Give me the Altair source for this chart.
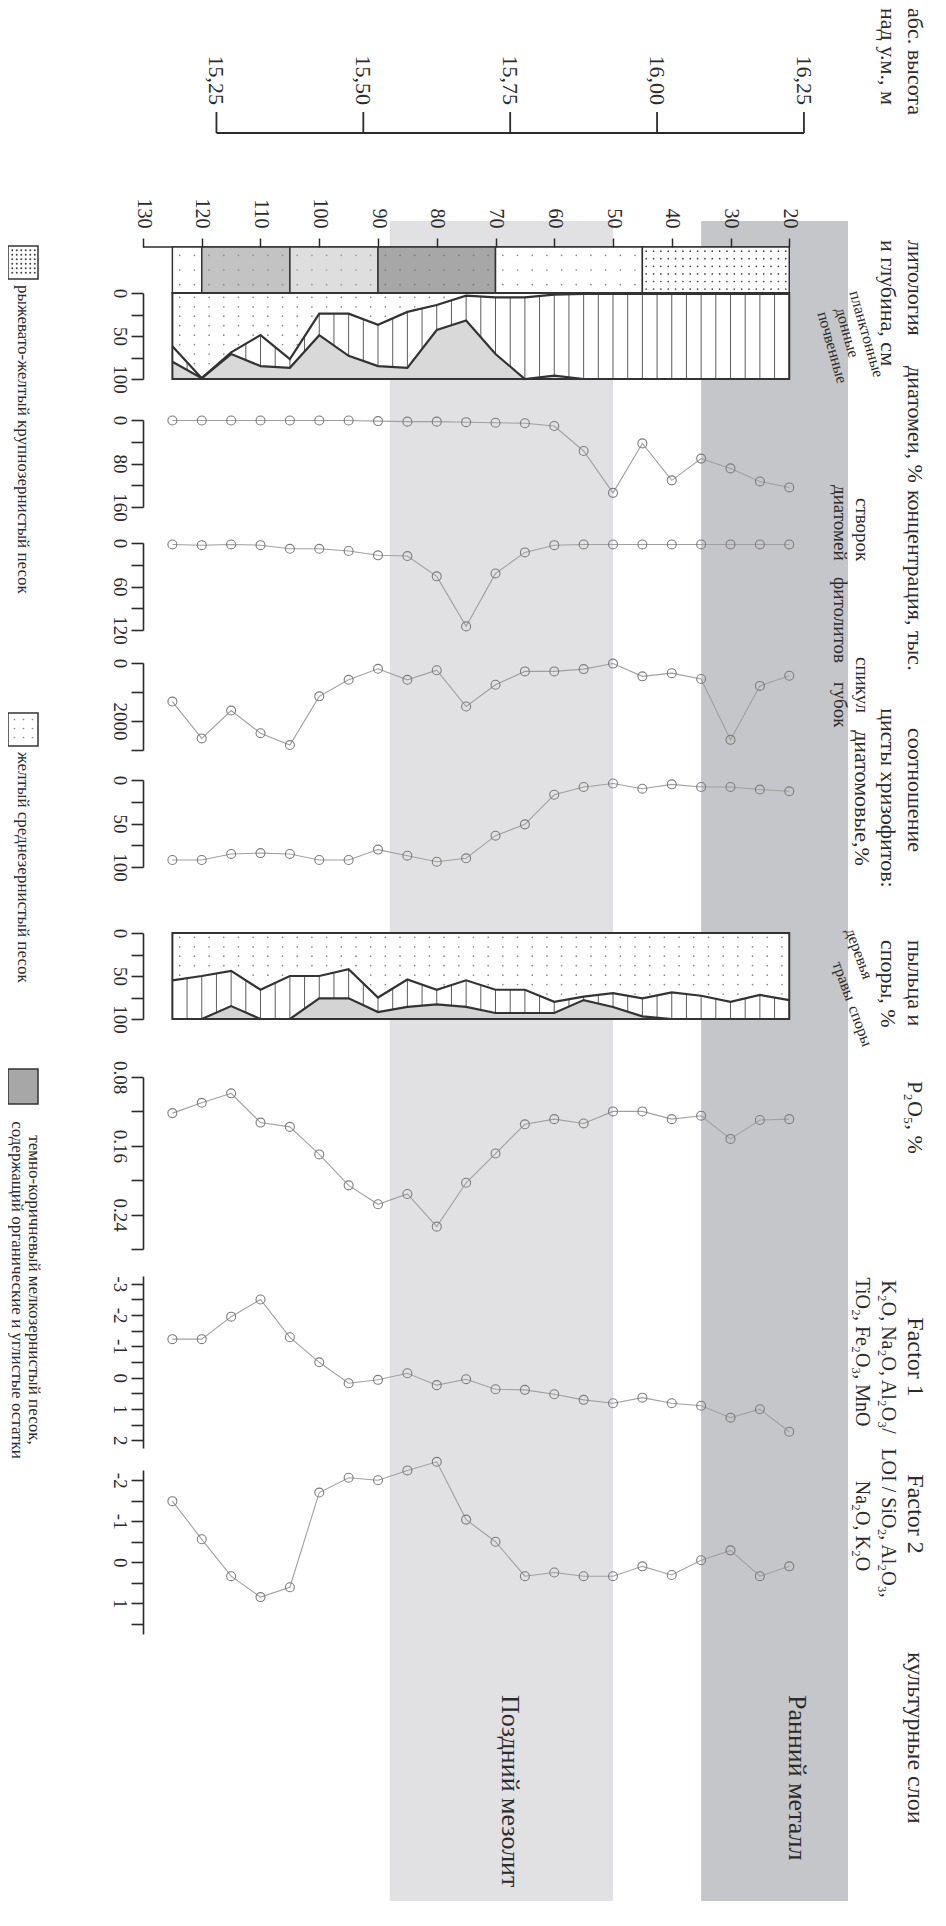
import altair as alt
import pandas as pd

FONT = "Liberation Serif"
INK = "#2b2b2b"

# ---------------- values ----------------
depth = [125, 120, 115, 110, 105, 100, 95, 90, 85, 80, 75, 70, 65, 60, 55, 50, 45, 40, 35, 30, 25, 20]

# diatoms, % (cumulative boundaries: planktonic | benthic | soil)
diatom_planktonic = [62, 99, 69, 49, 77, 24, 24, 37, 22, 14, 3, 5, 5, 2, 1, 1, 1, 1, 1, 1, 1, 1]
diatom_plankt_benthic = [80, 99, 71, 85, 87, 49, 73, 85, 87, 43, 32, 71, 100, 96, 100, 100, 100, 100, 100, 100, 100, 100]

diatom_conc = [1, 1, 1, 1, 1, 1, 1, 2, 3, 3, 4, 5, 6, 11, 57, 134, 43, 111, 71, 89, 113, 124]
phytolith_conc = [2, 3, 2, 3, 8, 8, 11, 17, 18, 46, 115, 42, 13, 3, 2, 2, 2, 2, 2, 2, 2, 2]
spicule_conc = [1330, 2600, 1640, 2420, 2830, 1150, 580, 200, 580, 250, 1500, 750, 290, 290, 210, 20, 460, 350, 550, 2650, 790, 440]
cyst_ratio = [92, 92, 85, 84, 85, 92, 92, 80, 87, 94, 90, 64, 51, 17, 8, 4, 10, 5, 8, 8, 11, 13]

# pollen and spores, % (cumulative boundaries: trees | herbs | spores)
pollen_trees = [55, 50, 44, 66, 50, 50, 42, 75, 54, 66, 55, 66, 66, 80, 74, 70, 76, 69, 73, 80, 72, 78]
pollen_trees_herbs = [100, 100, 85, 100, 100, 76, 76, 92, 86, 83, 86, 93, 93, 93, 78, 86, 97, 100, 100, 100, 100, 100]

p2o5 = [0.122, 0.110, 0.099, 0.133, 0.138, 0.170, 0.206, 0.228, 0.216, 0.254, 0.203, 0.169, 0.135, 0.129,
        0.134, 0.120, 0.120, 0.129, 0.125, 0.152, 0.130, 0.129]
factor1 = [-1.23, -1.23, -1.95, -2.50, -1.29, -0.49, 0.18, 0.07, -0.14, 0.24, 0.05, 0.37, 0.39, 0.53,
           0.71, 0.82, 0.64, 0.82, 0.90, 1.28, 1.01, 1.73]
factor2 = [-1.49, -0.56, 0.34, 0.85, 0.61, -1.70, -2.06, -2.00, -2.24, -2.45, -1.04, -0.50, 0.34, 0.25,
           0.34, 0.34, 0.10, 0.31, -0.05, -0.29, 0.34, 0.10]

litho_top = [125, 120, 105, 90, 70, 45]
litho_bottom = [120, 105, 90, 70, 45, 20]
litho_class = ["sparse", "gray", "light", "dark", "sparse", "dense"]

culture_start = [88, 35]
culture_end = [50, 10]
culture_name = ["Поздний мезолит", "Ранний металл"]
culture_tone = ["light", "dark"]

depth_ticks = [130, 120, 110, 100, 90, 80, 70, 60, 50, 40, 30, 20]
altitude_ticks = [15.25, 15.50, 15.75, 16.00, 16.25]
surface_altitude = 16.425  # m a.s.l. at depth 0

legend_text = ["рыжевато-желтый крупнозернистый песок",
               "желтый среднезернистый песок",
               "темно-коричневый мелкозернистый песок,",
               "содержащий органические и углистые остатки"]

# ---------------- layout ----------------
W, H = 705, 1654
OX, OY = 143, 247          # page position of plot origin
K = W / 120.0
HEAD = 22                  # header font size
FORM = 20                  # chemical formula lines


def px(x):
    return x - OX


def py(y):
    return y - OY


PANEL = dict(litho=(0, 46), diat=(46, 132), conc=(173, 260), phyt=(296, 383), spic=(416, 503),
             cyst=(533, 620), poll=(686, 772), p2o5=(830, 1002), f1=(1029, 1201), f2=(1223, 1387))

xscale = alt.Scale(domain=[130, 10], nice=False, zero=False)
xaxis = alt.Axis(orient="top", values=depth_ticks, tickSize=9, tickColor=INK, tickWidth=1.5, domain=False,
                 labelAngle=90, labelAlign="right", labelBaseline="middle", labelPadding=10,
                 labelFont=FONT, labelFontSize=20, labelColor=INK, labelFlush=False, labelOverlap=False,
                 grid=False, title=None, zindex=2)


def X(field):
    return alt.X(f"{field}:Q", scale=xscale, axis=xaxis)


def yaxis(values, expr):
    return alt.Axis(orient="left", values=values, labelExpr=expr, tickSize=12, tickWidth=1.6, tickColor=INK,
                    domainColor=INK, domainWidth=1.6, labelAngle=90, labelAlign="center", labelBaseline="top",
                    labelPadding=3, labelFont=FONT, labelFontSize=19, labelColor=INK, labelOverlap=False,
                    labelFlush=False, grid=False, title=None, zindex=2)


ident_y = alt.Scale(domain=[0, H], range=[0, H], nice=False, zero=False)


def note(text, x, y, size=HEAD, angle=90, align="left"):
    return alt.Chart(pd.DataFrame({"t": [text]})).mark_text(
        angle=angle, align=align, baseline="middle", font=FONT, fontSize=size, color=INK
    ).encode(x=alt.value(x), y=alt.value(y), text="t:N")


def dot_grid(x0, x1, y0, y1, sx, sy, size, color):
    nx = int((x1 - x0) // sx)
    ny = int((y1 - y0) // sy)
    return alt.Chart(alt.sequence(0, nx * ny, as_="i")).transform_calculate(
        gx=f"{x0} + {sx}/2 + ({sx}) * (datum.i % {nx})",
        gy=f"{y0} + {sy}/2 + ({sy}) * floor(datum.i / {nx})",
    ).transform_calculate(d=f"130 - datum.gx / {K}").mark_point(
        filled=True, size=size, color=color, opacity=1
    ).encode(x=X("d"), y=alt.Y("gy:Q", scale=ident_y, axis=None))


layers = []

# ---- cultural layer bands ----
culture = pd.DataFrame({"start": culture_start, "end": culture_end, "name": culture_name, "tone": culture_tone})
layers.append(alt.Chart(culture).mark_rect().encode(
    x=X("start"), x2="end", y=alt.value(py(221)), y2=alt.value(H),
    color=alt.Color("tone:N", scale=alt.Scale(domain=["light", "dark"], range=["#e1e1e3", "#c5c6c9"]), legend=None)))

# ---- altitude axis (m a.s.l.) ----
AY = py(133)
alt_df = pd.DataFrame({"a": altitude_ticks})
alt_base = alt.Chart(alt_df).transform_calculate(d=f"({surface_altitude} - datum.a) * 100")
layers.append(alt_base.mark_rule(color=INK, strokeWidth=1.8).encode(
    x=X("d"), y=alt.value(AY - 21), y2=alt.value(AY)))
layers.append(alt_base.transform_aggregate(d0="max(d)", d1="min(d)").mark_rule(color=INK, strokeWidth=1.8).encode(
    x=X("d0"), x2="d1", y=alt.value(AY)))
layers.append(alt_base.transform_calculate(lab="replace(format(datum.a, '.2f'), '.', ',')").mark_text(
    angle=90, align="right", baseline="middle", font=FONT, fontSize=22, color=INK).encode(
    x=X("d"), y=alt.value(AY - 28), text="lab:N"))

# ---- depth axis line ----
dt = pd.DataFrame({"d": depth_ticks})
layers.append(alt.Chart(dt).transform_aggregate(d0="max(d)", d1="min(d)").mark_rule(
    color=INK, strokeWidth=1.6).encode(x=X("d0"), x2="d1", y=alt.value(0)))

# ---- lithology ----
litho = pd.DataFrame({"top": litho_top, "bot": litho_bottom, "cls": litho_class})
LY = PANEL["litho"]
layers.append(alt.Chart(litho).mark_rect(stroke="#333333", strokeWidth=1.5).encode(
    x=X("top"), x2="bot", y=alt.value(LY[0]), y2=alt.value(LY[1]),
    color=alt.Color("cls:N", scale=alt.Scale(domain=["sparse", "gray", "light", "dark", "dense"],
                                             range=["#ffffff", "#c3c3c3", "#dedede", "#a7a7a7", "#ffffff"]),
                    legend=None)))
layers.append(alt.Chart(litho).transform_calculate(
    xs="datum.cls == 'dense' ? sequence(datum.bot + 0.6, datum.top, 1.25) : sequence(datum.bot + 1.25, datum.top, 2.5)",
    ys="datum.cls == 'dense' ? sequence(0.09, 0.99, 0.165) : sequence(0.18, 0.99, 0.32)",
).transform_flatten(["xs"]).transform_flatten(["ys"]).mark_point(filled=True, opacity=1).encode(
    x=X("xs"), y=alt.Y("ys:Q", scale=alt.Scale(domain=[0, 1], range=list(LY), nice=False, zero=False), axis=None),
    size=alt.Size("cls:N", scale=alt.Scale(domain=["sparse", "gray", "light", "dark", "dense"],
                                           range=[3, 3, 3, 3, 5]), legend=None),
    color=alt.Color("cls:N", scale=alt.Scale(domain=["sparse", "gray", "light", "dark", "dense"],
                                             range=["#8a8a8a", "#8a8a8a", "#9a9a9a", "#777777", "#444444"]),
                    legend=None)))


# ---- stacked percentage panels (diatoms, pollen) ----
def stacked(up, lo, rng, soil_color):
    df = pd.DataFrame({"depth": depth, "up": up, "lo": lo})
    ys = alt.Scale(domain=[0, 100], range=list(rng), nice=False, zero=False)
    base = alt.Chart(df)
    out = []
    out.append(base.transform_aggregate(d0="max(depth)", d1="min(depth)").mark_rect(color="white").encode(
        x=X("d0"), x2="d1", y=alt.value(rng[0]), y2=alt.value(rng[1])))
    out.append(base.transform_calculate(full="100").mark_area(color=soil_color, opacity=1).encode(
        x=X("depth"), y=alt.Y("lo:Q", scale=ys, axis=None), y2="full:Q"))
    win = base.transform_window(nu="lead(up)", nl="lead(lo)",
                                sort=[alt.SortField("depth", order="descending")])
    out.append(win.transform_calculate(offs="[0, 2.5]").transform_flatten(["offs"]).transform_filter(
        "datum.nu != null || datum.offs == 0").transform_calculate(
        hx="datum.depth - datum.offs",
        hu="datum.up + ((datum.nu == null ? datum.up : datum.nu) - datum.up) * datum.offs / 5",
        hl="datum.lo + ((datum.nl == null ? datum.lo : datum.nl) - datum.lo) * datum.offs / 5",
    ).mark_rule(color="#4a4a4a", strokeWidth=0.9).encode(
        x=X("hx"), y=alt.Y("hu:Q", scale=ys, axis=None), y2="hl:Q"))
    out.append(win.transform_calculate(offs="[1.25, 3.75]", pct="sequence(5, 100, 11)").transform_flatten(
        ["offs"]).transform_flatten(["pct"]).transform_calculate(
        hx="datum.depth - datum.offs",
        hu="datum.up + ((datum.nu == null ? datum.up : datum.nu) - datum.up) * datum.offs / 5",
    ).transform_filter("datum.nu != null && datum.pct < datum.hu - 3").mark_point(
        filled=True, size=3, color="#8c8c8c", opacity=1).encode(
        x=X("hx"), y=alt.Y("pct:Q", scale=ys, axis=None)))
    out.append(base.mark_line(color="#333333", strokeWidth=2.2).encode(
        x=X("depth"), y=alt.Y("up:Q", scale=ys,
                              axis=yaxis([0, 25, 50, 75, 100], "datum.value % 50 == 0 ? datum.label : ''"))))
    out.append(base.mark_line(color="#333333", strokeWidth=2.2).encode(
        x=X("depth"), y=alt.Y("lo:Q", scale=ys, axis=None)))
    out.append(base.transform_aggregate(d0="max(depth)", d1="min(depth)").mark_rect(
        fillOpacity=0, stroke="#333333", strokeWidth=2).encode(
        x=X("d0"), x2="d1", y=alt.value(rng[0]), y2=alt.value(rng[1])))
    return out


layers += stacked(diatom_planktonic, diatom_plankt_benthic, PANEL["diat"], "#d9d9d9")
layers += stacked(pollen_trees, pollen_trees_herbs, PANEL["poll"], "#d4d4d4")


# ---- line + circle profiles ----
def profile(values, rng, domain, ticks, expr):
    df = pd.DataFrame({"depth": depth, "v": values})
    ys = alt.Scale(domain=domain, range=list(rng), nice=False, zero=False)
    base = alt.Chart(df)
    return [
        base.mark_line(color="#a0a0a0", strokeWidth=1.1).encode(
            x=X("depth"), y=alt.Y("v:Q", scale=ys, axis=yaxis(ticks, expr))),
        base.mark_point(shape="circle", filled=False, size=80, color="#7c7c7c", strokeWidth=1.1, opacity=1).encode(
            x=X("depth"), y=alt.Y("v:Q", scale=ys, axis=None)),
    ]


layers += profile(diatom_conc, PANEL["conc"], [0, 160], [0, 40, 80, 120, 160],
                  "datum.value % 80 == 0 ? '' + datum.value : ''")
layers += profile(phytolith_conc, PANEL["phyt"], [0, 120], [0, 30, 60, 90, 120],
                  "datum.value % 60 == 0 ? '' + datum.value : ''")
layers += profile(spicule_conc, PANEL["spic"], [0, 3000], [0, 1000, 2000, 3000],
                  "(datum.value == 0 || datum.value == 2000) ? '' + datum.value : ''")
layers += profile(cyst_ratio, PANEL["cyst"], [0, 100], [0, 25, 50, 75, 100],
                  "datum.value % 50 == 0 ? '' + datum.value : ''")
layers += profile(p2o5, PANEL["p2o5"], [0.08, 0.28], [0.08, 0.12, 0.16, 0.20, 0.24, 0.28],
                  "indexof(['0.08', '0.16', '0.24'], format(datum.value, '.2f')) >= 0 ? format(datum.value, '.2f') : ''")
layers += profile(factor1, PANEL["f1"], [-3.25, 2.25], [-3, -2.5, -2, -1.5, -1, -0.5, 0, 0.5, 1, 1.5, 2],
                  "datum.value % 1 == 0 ? '' + datum.value : ''")
layers += profile(factor2, PANEL["f2"], [-2.25, 1.75], [-2, -1.5, -1, -0.5, 0, 0.5, 1, 1.5],
                  "datum.value % 1 == 0 ? '' + datum.value : ''")

# ---- headers (rotated) ----
CA, CB, CC, CD = px(915), px(888), px(862), px(840)
layers += [
    note("абс. высота", CA, py(8)), note("над у.м., м", CB, py(8)),
    note("литология", CA, py(240)), note("и глубина, см", CB, py(240)),
    note("диатомеи, %", CA, py(366)),
    note("концентрация, тыс.", CA, py(490)),
    note("соотношение", CA, py(790), align="center"),
    note("цисты хризофитов:", CB, py(798), align="center"),
    note("диатомовые,%", CC, py(798), align="center"),
    note("пыльца и", CA, py(940)), note("споры, %", CB, py(940)),
    note("P₂O₅, %", CA, py(1081)),
    note("Factor 1", CA, py(1357), size=24, align="center"),
    note("K₂O, Na₂O, Al₂O₃/", CB, py(1357), size=FORM, align="center"),
    note("TiO₂, Fe₂O₃, MnO", CC, py(1352), size=FORM, align="center"),
    note("Factor 2", CA, py(1514), size=24, align="center"),
    note("LOI / SiO₂, Al₂O₃,", CB, py(1523), size=FORM, align="center"),
    note("Na₂O, K₂O", CC, py(1526), size=FORM, align="center"),
    note("культурные слои", CA, py(1652), size=24),
    note("створок", CC, py(498), size=19), note("диатомей", CD, py(485), size=19),
    note("фитолитов", CD, py(577), size=19),
    note("спикул", CC, py(657), size=19), note("губок", CD, py(682), size=19),
    note("планктонные", px(854), py(291), size=16, angle=74),
    note("донные", px(840), py(308), size=16, angle=74),
    note("почвенные", px(822), py(312), size=16, angle=74),
    note("деревья", px(850), py(929), size=16, angle=70),
    note("травы", px(837), py(962), size=16, angle=70),
    note("споры", px(853), py(1006), size=16, angle=70),
    note(culture_name[0], px(510), py(1695), size=26),
    note(culture_name[1], px(797), py(1695), size=26),
]

# ---- legend ----
LEG = [(246, 279), (713, 746), (1069, 1104)]
for i, (y0, y1) in enumerate(LEG):
    fill = "#a7a7a7" if i == 2 else "white"
    layers.append(alt.Chart(pd.DataFrame({"k": [0]})).mark_rect(
        color=fill, stroke="#333333", strokeWidth=1.5).encode(
        x=alt.value(px(8)), x2=alt.value(px(38)), y=alt.value(py(y0)), y2=alt.value(py(y1))))
layers.append(dot_grid(px(10), px(37), py(248), py(278), 4.5, 4.5, 4, "#444444"))
layers.append(dot_grid(px(10), px(37), py(715), py(745), 9, 9, 3, "#8a8a8a"))
layers += [
    note(legend_text[0], px(23), py(285), size=17),
    note(legend_text[1], px(23), py(752), size=17),
    note(legend_text[2], px(34), py(1290), size=17, align="center"),
    note(legend_text[3], px(17), py(1290), size=17, align="center"),
]

chart = alt.layer(*layers).resolve_scale(
    y="independent", color="independent", size="independent"
).resolve_axis(y="independent").properties(
    width=W, height=H,
    padding={"left": OX - 8, "top": OY - 8, "right": 90, "bottom": 4},
    autosize=alt.AutoSizeParams(type="none"),
).configure_view(stroke=None)

chart.save("out.html", embed_options={"renderer": "svg", "actions": False})
